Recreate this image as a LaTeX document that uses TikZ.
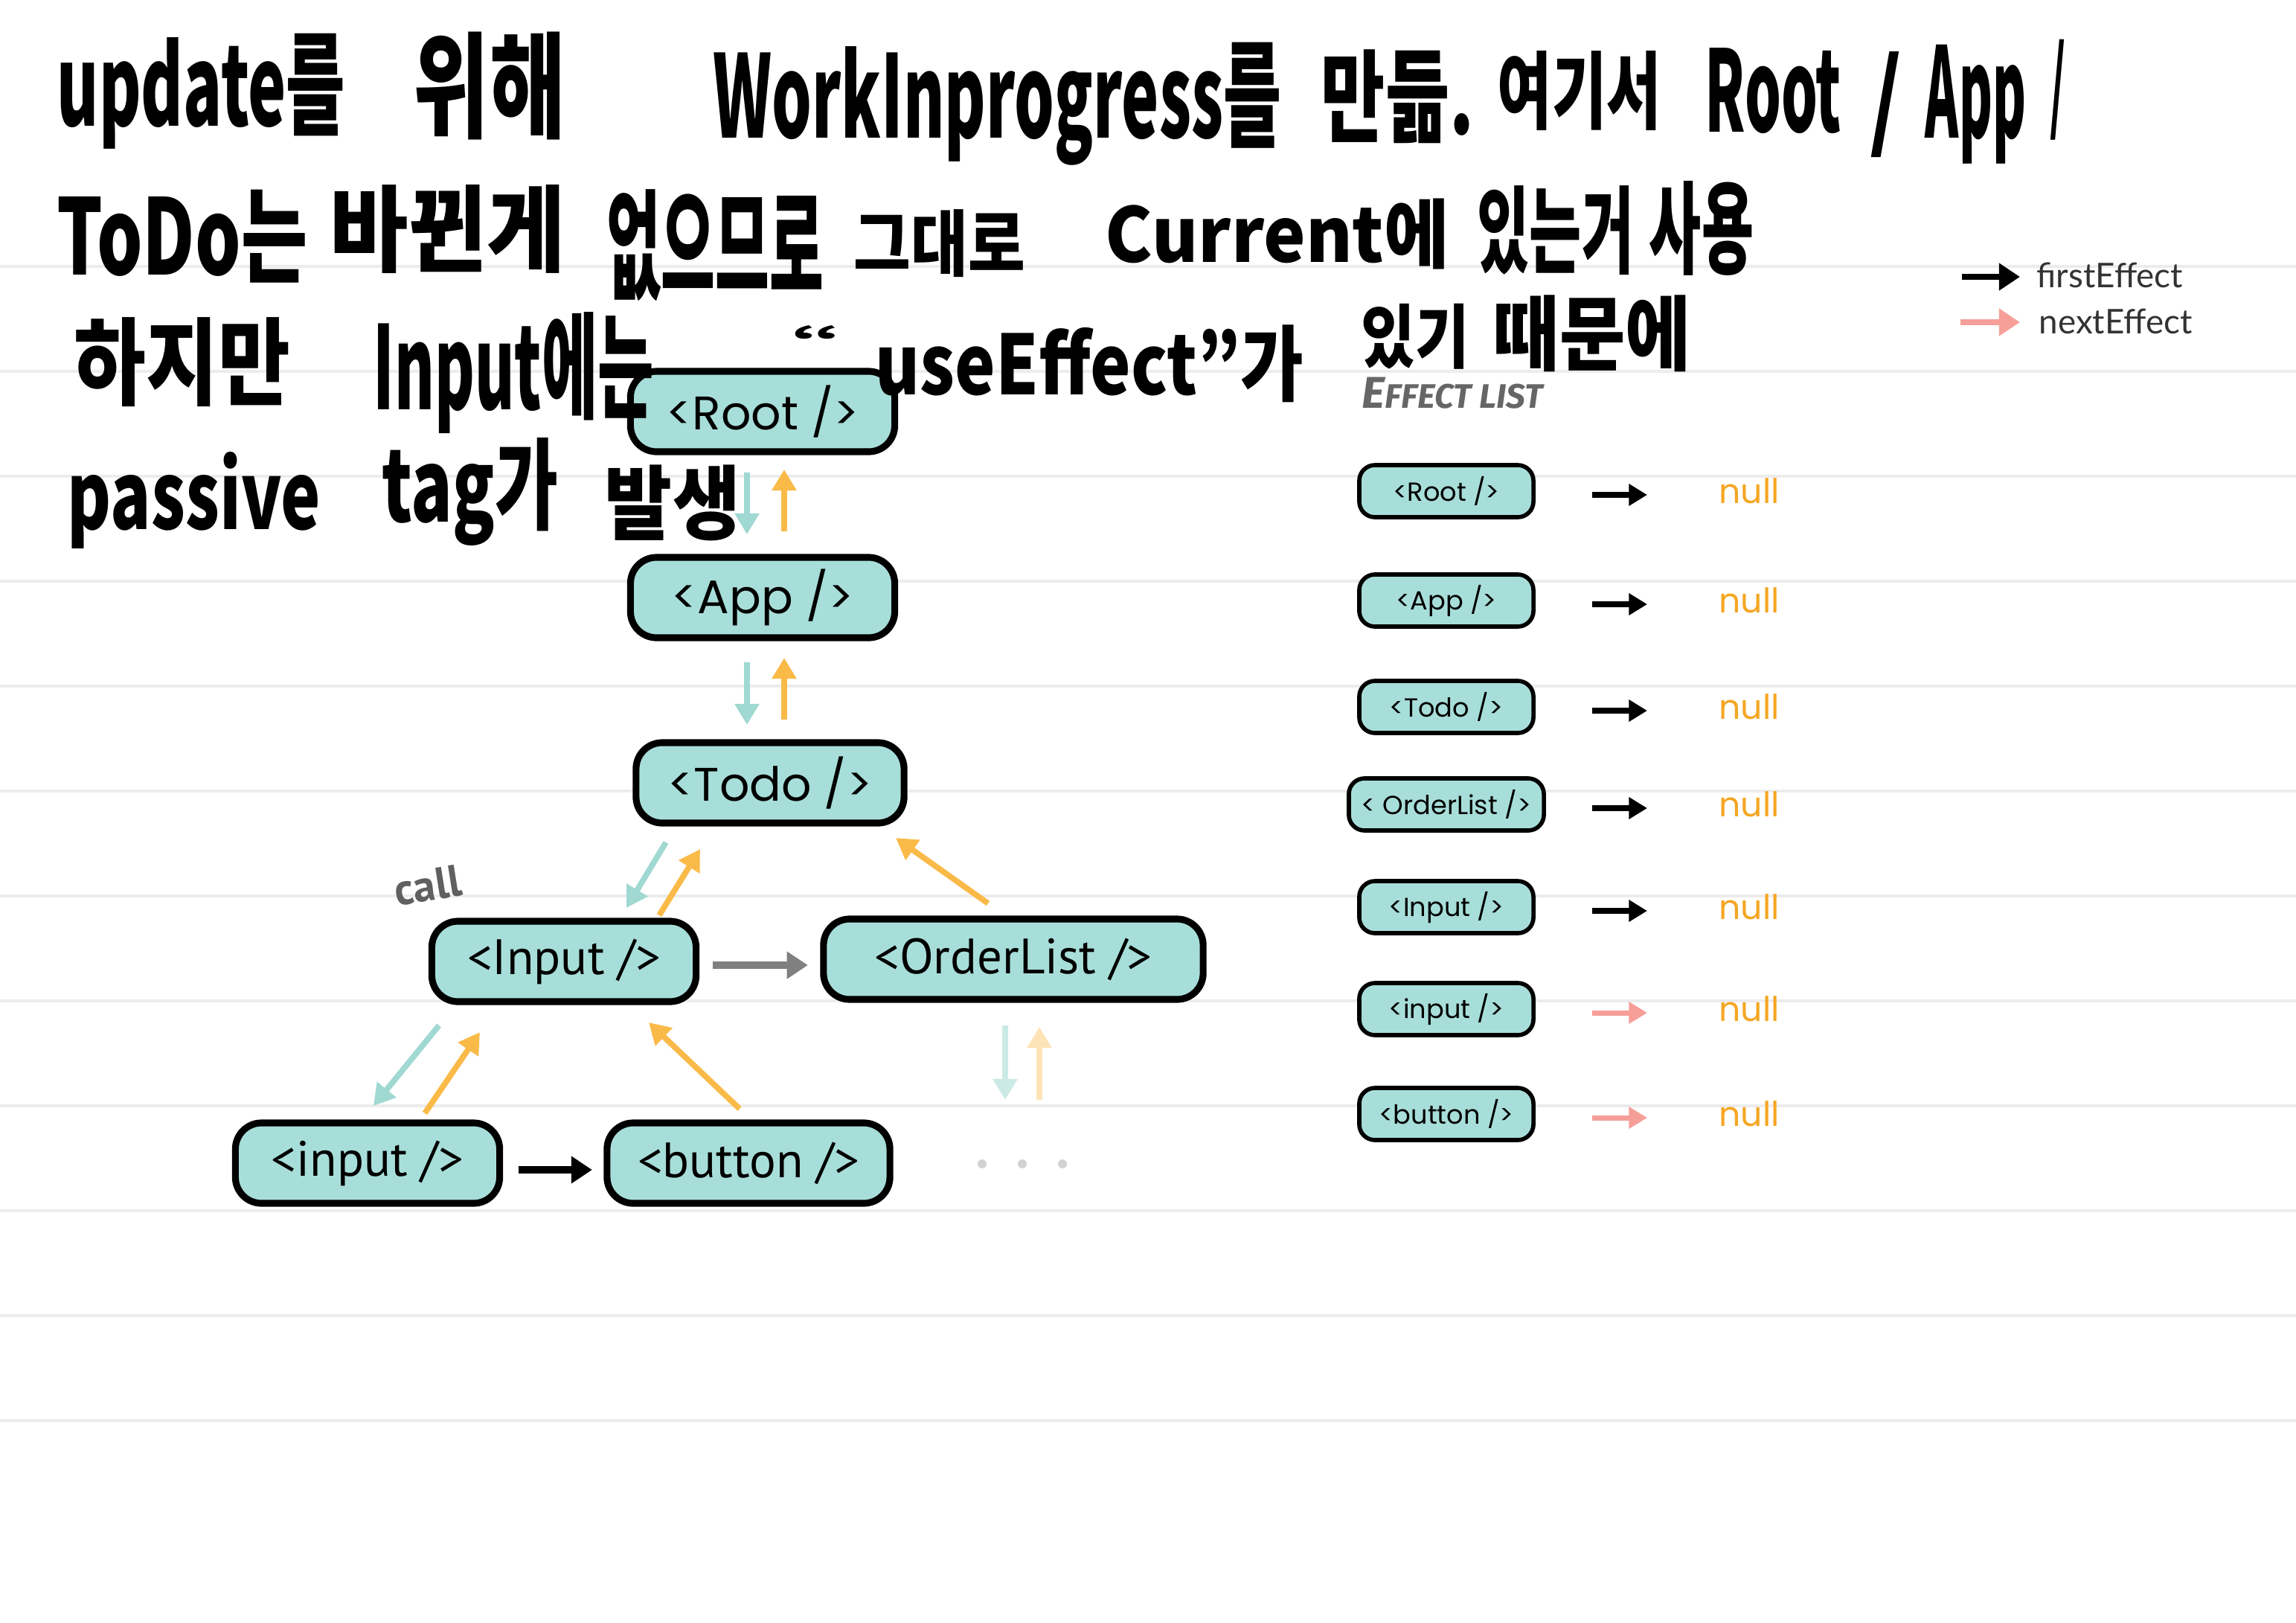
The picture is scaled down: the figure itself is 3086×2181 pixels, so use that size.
\documentclass[tikz,border=0pt]{standalone}
\usepackage{fontspec}
\usepackage{graphicx}
\usetikzlibrary{calc,arrows.meta}
\newfontfamily\hand{Noto Sans CJK KR}
\newfontfamily\geo{Poppins}
\newfontfamily\narrow{PT Sans}
\newfontfamily\leg{Lato}
\newfontfamily\fira{Fira Sans}
\definecolor{boxteal}{RGB}{168,222,217}
\definecolor{downteal}{RGB}{160,216,210}
\definecolor{uporange}{RGB}{250,186,72}
\definecolor{nextpink}{RGB}{246,158,152}
\definecolor{nullorange}{RGB}{245,166,35}
\definecolor{rule}{RGB}{236,236,236}
\newcommand{\hw}[3]{\resizebox*{#1cm}{#2cm}{\hand\bfseries #3}}

\begin{document}
\begin{tikzpicture}[x=0.01cm,y=-0.01cm,
  fiber/.style={draw=black,line width=2.6pt,fill=boxteal,rounded corners=10pt,
    minimum width=3.55cm,minimum height=1.08cm,inner sep=0pt,outer sep=0pt},
  treetop/.style={fiber,font=\geo\fontsize{18}{18}\selectfont},
  treelow/.style={fiber,font=\narrow\fontsize{19}{19}\selectfont},
  effbox/.style={draw=black,line width=1.6pt,fill=boxteal,rounded corners=6pt,
    minimum height=0.70cm,inner sep=0pt,font=\geo\fontsize{10}{10}\selectfont},
  dnarrow/.style={downteal,line width=2.2pt,-{Triangle[length=8pt,width=9pt]}},
  uparrow/.style={uporange,line width=2.2pt,-{Triangle[length=8pt,width=9pt]}},
  sibarrow/.style={line width=2.6pt,-{Triangle[length=8pt,width=10pt]}},
  effarrow/.style={line width=2pt,-{Triangle[length=7pt,width=8pt]}},
  legarrow/.style={line width=2.4pt,-{Triangle[length=8pt,width=10pt]}},
  nulltext/.style={nullorange,font=\geo\fontsize{13}{13}\selectfont,inner sep=0pt},
  legtext/.style={black!80,font=\leg\fontsize{13}{13}\selectfont,anchor=west,inner sep=0pt},
  hwtext/.style={inner sep=0pt}]
\fill[white] (0,0) rectangle (3086,2181);
\useasboundingbox (0,0) rectangle (3086,2181);
\foreach \y in {358,499,...,1910}
  \draw[rule,line width=1.2pt] (0,\y) -- (3086,\y);

% fiber tree
\node[treetop] (root) at (1025,553) {<Root />};
\node[treetop] (app) at (1025,803) {<App />};
\node[treetop,minimum width=3.6cm] (todo) at (1035,1052) {<Todo />};
\node[treelow] (input) at (758,1292) {<Input />};
\node[treelow,minimum width=5.1cm] (order) at (1362,1289) {<OrderList />};
\node[treelow] (inp) at (494,1563) {<input />};
\node[treelow,minimum width=3.8cm] (button) at (1006,1563) {<button />};
\coordinate (olkid) at (1374,1520);
\node[gray!75!black,rotate=9,font=\narrow\bfseries\fontsize{17}{17}\selectfont] (call) at (575,1190) {call};

\draw[dnarrow] ($(root.south)+(-21,28)$) -- ($(app.north)+(-21,-31)$);
\draw[uparrow] ($(app.north)+(29,-35)$) -- ($(root.south)+(29,24)$);
\draw[dnarrow] ($(app.south)+(-21,33)$) -- ($(todo.north)+(-31,-24)$);
\draw[uparrow] ($(todo.north)+(19,-31)$) -- ($(app.south)+(29,27)$);
\draw[dnarrow] ($(todo.south)+(-140,26)$) -- ($(input.north)+(84,-18)$);
\draw[uparrow] ($(input.north)+(128,-8)$) -- ($(todo.south)+(-94,35)$);
\draw[uparrow] ($(order.north)+(-34,-21)$) -- ($(todo.south)+(169,20)$);
\draw[sibarrow,gray] ($(input.east)+(22,5)$) -- ($(order.west)+(-21,8)$);
\draw[dnarrow] ($(input.south)+(-168,32)$) -- ($(inp.north)+(8,-23)$);
\draw[uparrow] ($(inp.north)+(77,-13)$) -- ($(input.south)+(-113,41)$);
\draw[uparrow] ($(button.north)+(-12,-19)$) -- ($(input.south)+(114,28)$);
\draw[sibarrow,black] ($(inp.east)+(25,9)$) -- ($(button.west)+(-20,9)$);
\draw[dnarrow,downteal!55] ($(order.south)+(-11,35)$) -- ($(olkid)+(-23,-42)$);
\draw[uparrow,uporange!40] ($(olkid)+(23,-42)$) -- ($(order.south)+(35,37)$);
\foreach \dx in {-54,0,54}
  \fill[gray!35] ($(olkid)+(\dx,44)$) circle (6);

% effect list
\node[black!60,anchor=west,inner sep=0pt,font=\fira\bfseries\itshape] (efftitle) at (1830,528)
  {{\fontsize{17}{17}\selectfont E}{\fontsize{13}{13}\selectfont FFECT LIST}};
\foreach \y/\w/\lab/\col [count=\i] in {660/2.34/{<Root />}/black,807/2.34/{<App />}/black,
    950/2.34/{<Todo />}/black,1081/2.62/{< OrderList />}/black,1219/2.34/{<Input />}/black,
    1356/2.34/{<input />}/nextpink,1497/2.34/{<button />}/nextpink}{
  \node[effbox,minimum width=\w cm] (e\i) at (1944,\y) {\lab};
  \node[nulltext] (n\i) at (2351,\y) {null};
  \draw[effarrow,\col] ($(e\i.center)+(196,5)$) -- ($(n\i.center)+(-137,5)$);
}

% legend
\node[legtext] (first) at (2737,370) {firstEffect};
\node[legtext] (next) at (2740,432) {nextEffect};
\coordinate (k1) at (2637,372);
\coordinate (k2) at (2635,433);
\draw[legarrow,black] (k1) -- ($(first.west)+(-22,2)$);
\draw[legarrow,nextpink] (k2) -- ($(next.west)+(-25,1)$);

% handwritten note
\node[hwtext] (t1) at (270.5,122.5) {\hw{3.87}{1.55}{update를}};
\node[hwtext] (t2) at (658,115.5) {\hw{2.04}{1.45}{위해}};
\node[hwtext] (t3) at (1340.5,139.5) {\hw{7.63}{1.65}{WorkInprogress를}};
\node[hwtext] (t4) at (1878.5,130) {\hw{2.05}{1.26}{만듦.}};
\node[hwtext] (t5) at (2123,121.5) {\hw{2.20}{1.07}{여기서}};
\node[hwtext] (t6) at (2383.5,122.5) {\hw{1.83}{1.15}{Root}};
\node[hwtext] (t7) at (2534.5,141) {\hw{0.43}{1.42}{/}};
\node[hwtext] (t8) at (2655.5,140) {\hw{1.35}{1.60}{App}};
\node[hwtext] (t9) at (2765.5,120.5) {\hw{0.21}{1.35}{/}};
\node[hwtext] (t10) at (245,317.5) {\hw{3.36}{1.25}{ToDo는}};
\node[hwtext] (t11) at (602,307.5) {\hw{3.16}{1.19}{바뀐게}};
\node[hwtext] (t12) at (961.5,330) {\hw{2.91}{1.50}{없으므로}};
\node[hwtext] (t13) at (1263,327.5) {\hw{2.30}{0.91}{그대로}};
\node[hwtext] (t14) at (1717,314.5) {\hw{4.62}{0.95}{Current에}};
\node[hwtext] (t15) at (2091,310) {\hw{2.10}{1.20}{있는거}};
\node[hwtext] (t16) at (2287,306.5) {\hw{1.40}{1.27}{사용}};
\node[hwtext] (t17) at (245,487) {\hw{2.90}{1.20}{하지만}};
\node[hwtext] (t18) at (690.5,501.5) {\hw{3.77}{1.63}{Input에는}};
\node[hwtext] (t19) at (1097.5,454.5) {\hw{0.69}{0.35}{“}};
\node[hwtext] (t20) at (1464.5,489) {\hw{5.75}{1.04}{useEffect”가}};
\node[hwtext] (t21) at (1902.5,452) {\hw{1.45}{0.88}{있기}};
\node[hwtext] (t22) at (2140.5,448.5) {\hw{2.65}{1.03}{때문에}};
\node[hwtext] (t23) at (261,672) {\hw{3.40}{1.30}{passive}};
\node[hwtext] (t24) at (632,660.5) {\hw{2.36}{1.45}{tag가}};
\node[hwtext] (t25) at (904,676) {\hw{1.82}{1.02}{발생}};
\end{tikzpicture}
\end{document}
